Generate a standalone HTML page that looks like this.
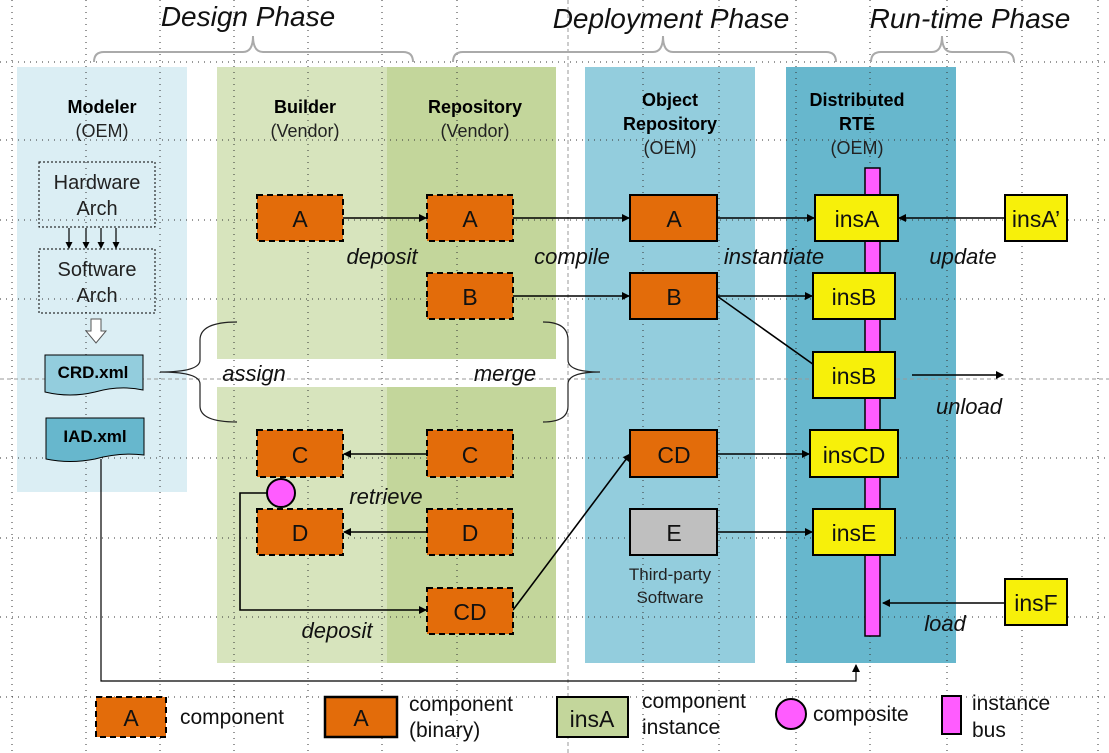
<!DOCTYPE html>
<html><head><meta charset="utf-8"><style>
html,body{margin:0;padding:0;background:#fff;}
svg{display:block;font-family:"Liberation Sans",sans-serif;}
</style></head><body>
<svg width="1109" height="753" viewBox="0 0 1109 753" xmlns="http://www.w3.org/2000/svg">
<defs>
<marker id="ar" markerWidth="8" markerHeight="8" refX="7" refY="4" orient="auto" markerUnits="userSpaceOnUse">
<path d="M0,0 L8,4 L0,8 z" fill="#000"/></marker>
<marker id="sm" markerWidth="7" markerHeight="7" refX="6" refY="3.5" orient="auto" markerUnits="userSpaceOnUse">
<path d="M0,0 L7,3.5 L0,7 z" fill="#000"/></marker>
</defs>
<!-- panels -->
<rect x="17" y="67" width="170" height="425" fill="#dbeef4"/>
<rect x="217" y="67" width="170" height="292" fill="#d7e4bd"/>
<rect x="387" y="67" width="169" height="292" fill="#c3d69b"/>
<rect x="217" y="387" width="170" height="276" fill="#d7e4bd"/>
<rect x="387" y="387" width="169" height="276" fill="#c3d69b"/>
<rect x="585" y="67" width="170" height="596" fill="#93cddd"/>
<rect x="786" y="67" width="170" height="596" fill="#67b7cd"/>
<!-- grid -->
<g stroke="#333" stroke-width="1" stroke-dasharray="1,5" fill="none">
<path d="M12,0V753 M86,0V753 M160,0V753 M234,0V753 M308,0V753 M382,0V753 M457,0V753 M643,0V753 M719,0V753 M796,0V753 M870,0V753 M947,0V753 M1022,0V753 M1098,0V753"/>
<path d="M0,62H1109 M0,140H1109 M0,220H1109 M0,299H1109 M0,458H1109 M0,538H1109 M0,617H1109 M0,697H1109"/>
</g>
<g stroke="#999" stroke-width="1" stroke-dasharray="4,3" fill="none">
<path d="M568,0V753 M0,379H1109"/>
</g>
<!-- titles -->
<g font-style="italic" font-size="28" text-anchor="middle" fill="#111">
<text x="248" y="26">Design Phase</text>
<text x="671" y="28">Deployment Phase</text>
<text x="970" y="28">Run-time Phase</text>
</g>
<g stroke="#aaa" stroke-width="2" fill="none">
<path d="M94,62 Q94,52 104,52 H243 Q253,52 253,36 Q253,52 263,52 H403 Q413,52 413,62"/>
<path d="M453,62 Q453,52 463,52 H653 Q663,52 663,36 Q663,52 673,52 H826 Q836,52 836,62"/>
<path d="M871,62 Q871,52 881,52 H932 Q942,52 942,36 Q942,52 952,52 H1004 Q1014,52 1014,62"/>
</g>
<!-- headers -->
<g text-anchor="middle" font-size="18">
<text x="102" y="113" font-weight="bold">Modeler</text><text x="102" y="137" fill="#222">(OEM)</text>
<text x="305" y="113" font-weight="bold">Builder</text><text x="305" y="137" fill="#222">(Vendor)</text>
<text x="475" y="113" font-weight="bold">Repository</text><text x="475" y="137" fill="#222">(Vendor)</text>
<text x="670" y="106" font-weight="bold">Object</text><text x="670" y="130" font-weight="bold">Repository</text><text x="670" y="154" fill="#222">(OEM)</text>
<text x="857" y="106" font-weight="bold">Distributed</text><text x="857" y="130" font-weight="bold">RTE</text><text x="857" y="154" fill="#222">(OEM)</text>
</g>
<!-- modeler -->
<rect x="39" y="162" width="116" height="65" fill="none" stroke="#000" stroke-dasharray="2,2"/>
<rect x="39" y="249" width="116" height="64" fill="none" stroke="#000" stroke-dasharray="2,2"/>
<g text-anchor="middle" font-size="20" fill="#222">
<text x="97" y="189">Hardware</text><text x="97" y="215">Arch</text>
<text x="97" y="276">Software</text><text x="97" y="302">Arch</text>
</g>
<g stroke="#000" stroke-width="1.2">
<path d="M69,228V248" marker-end="url(#sm)"/>
<path d="M86,228V248" marker-end="url(#sm)"/>
<path d="M101,228V248" marker-end="url(#sm)"/>
<path d="M116,228V248" marker-end="url(#sm)"/>
</g>
<path d="M91,319 H101 V331 H106 L96,343 L86,331 H91 Z" fill="#fff" stroke="#555"/>
<path d="M45,355 H143 V390 Q120,385 95,392 Q70,398 45,392 Z" fill="#93cddd" stroke="#000"/>
<text x="93" y="378" text-anchor="middle" font-weight="bold" font-size="17">CRD.xml</text>
<path d="M46,418 H144 V455 Q120,452 95,459 Q70,464 46,459 Z" fill="#67b7cd" stroke="#000"/>
<text x="95" y="442" text-anchor="middle" font-weight="bold" font-size="17">IAD.xml</text>
<!-- braces -->
<g stroke="#222" stroke-width="1.2" fill="none">
<path d="M237,322 Q200,322 200,340 V360 Q200,372 160,372 Q200,372 200,384 V406 Q200,422 237,422"/>
<path d="M543,322 Q568,322 568,340 V360 Q568,372 600,372 Q568,372 568,384 V406 Q568,422 543,422"/>
</g>
<!-- connectors -->
<g stroke="#000" stroke-width="1.6" fill="none">
<path d="M343,218H426" marker-end="url(#ar)"/>
<path d="M513,218H629" marker-end="url(#ar)"/>
<path d="M513,296H629" marker-end="url(#ar)"/>
<path d="M717,218H814" marker-end="url(#ar)"/>
<path d="M1005,218H899" marker-end="url(#ar)"/>
<path d="M717,296H812" marker-end="url(#ar)"/>
<path d="M717,296L824,372" marker-end="url(#ar)"/>
<path d="M912,375H1003" marker-end="url(#ar)"/>
<path d="M717,454H809" marker-end="url(#ar)"/>
<path d="M717,532H812" marker-end="url(#ar)"/>
<path d="M1005,603H883" marker-end="url(#ar)"/>
<path d="M427,454H344" marker-end="url(#ar)"/>
<path d="M427,532H344" marker-end="url(#ar)"/>
<path d="M513,610L630,454" marker-end="url(#ar)"/>
<path d="M267,493H240V610H426" marker-end="url(#ar)"/>
<path d="M101,459V681H856V665" stroke-width="1.2" marker-end="url(#ar)"/>
</g>
<!-- bus -->
<rect x="865" y="168" width="15" height="468" fill="#ff5cff" stroke="#000" stroke-width="1.5"/>
<!-- component boxes dashed -->
<g fill="#e36c0a" stroke="#000" stroke-width="2" stroke-dasharray="6,4">
<rect x="257" y="195" width="86" height="46"/>
<rect x="427" y="195" width="86" height="46"/>
<rect x="427" y="273" width="86" height="46"/>
<rect x="257" y="430" width="86" height="47"/>
<rect x="427" y="430" width="86" height="47"/>
<rect x="257" y="509" width="86" height="46"/>
<rect x="427" y="509" width="86" height="46"/>
<rect x="427" y="588" width="86" height="46"/>
</g>
<g fill="#e36c0a" stroke="#000" stroke-width="2">
<rect x="630" y="195" width="87" height="46"/>
<rect x="630" y="273" width="87" height="46"/>
<rect x="630" y="430" width="87" height="47"/>
</g>
<rect x="630" y="509" width="87" height="46" fill="#bfbfbf" stroke="#000" stroke-width="2"/>
<g fill="#f7f00a" stroke="#000" stroke-width="2">
<rect x="815" y="195" width="83" height="46"/>
<rect x="1005" y="195" width="62" height="46"/>
<rect x="813" y="273" width="82" height="46"/>
<rect x="813" y="352" width="82" height="46"/>
<rect x="810" y="430" width="88" height="47"/>
<rect x="813" y="509" width="82" height="46"/>
<rect x="1005" y="579" width="62" height="46"/>
</g>
<circle cx="281" cy="493" r="14" fill="#ff5cff" stroke="#000" stroke-width="2"/>
<g text-anchor="middle" font-size="23" fill="#111">
<text x="300" y="227">A</text><text x="470" y="227">A</text><text x="470" y="305">B</text>
<text x="300" y="463">C</text><text x="470" y="463">C</text>
<text x="300" y="541">D</text><text x="470" y="541">D</text><text x="470" y="620">CD</text>
<text x="674" y="227">A</text><text x="674" y="305">B</text><text x="674" y="463">CD</text><text x="674" y="541">E</text>
<text x="857" y="227">insA</text><text x="1036" y="227">insA’</text>
<text x="854" y="305">insB</text><text x="854" y="384">insB</text>
<text x="854" y="463">insCD</text><text x="854" y="541">insE</text><text x="1036" y="611">insF</text>
</g>
<g text-anchor="middle" font-size="17" fill="#222">
<text x="670" y="580">Third-party</text><text x="670" y="603">Software</text>
</g>
<!-- italic labels -->
<g font-style="italic" font-size="22" text-anchor="middle" fill="#111">
<text x="382" y="264">deposit</text>
<text x="572" y="264">compile</text>
<text x="774" y="264">instantiate</text>
<text x="963" y="264">update</text>
<text x="254" y="381">assign</text>
<text x="505" y="381">merge</text>
<text x="969" y="414">unload</text>
<text x="386" y="504">retrieve</text>
<text x="337" y="638">deposit</text>
<text x="945" y="631">load</text>
</g>
<!-- legend -->
<rect x="96" y="697" width="70" height="40" fill="#e36c0a" stroke="#000" stroke-width="2" stroke-dasharray="6,4"/>
<rect x="325" y="697" width="72" height="40" fill="#e36c0a" stroke="#000" stroke-width="2.5"/>
<rect x="557" y="697" width="71" height="40" fill="#c3d69b" stroke="#000" stroke-width="2"/>
<circle cx="791" cy="714" r="15" fill="#ff5cff" stroke="#000" stroke-width="2"/>
<rect x="942" y="696" width="19" height="38" fill="#ff5cff" stroke="#000" stroke-width="2"/>
<g font-size="23" text-anchor="middle" fill="#111">
<text x="131" y="726">A</text><text x="361" y="726">A</text><text x="592" y="727">insA</text>
</g>
<g font-size="21" fill="#111">
<text x="180" y="724">component</text>
<text x="409" y="711">component</text><text x="409" y="737">(binary)</text>
<text x="642" y="708">component</text><text x="642" y="734">instance</text>
<text x="813" y="721">composite</text>
<text x="972" y="710">instance</text><text x="972" y="737">bus</text>
</g>
</svg>
</body></html>
